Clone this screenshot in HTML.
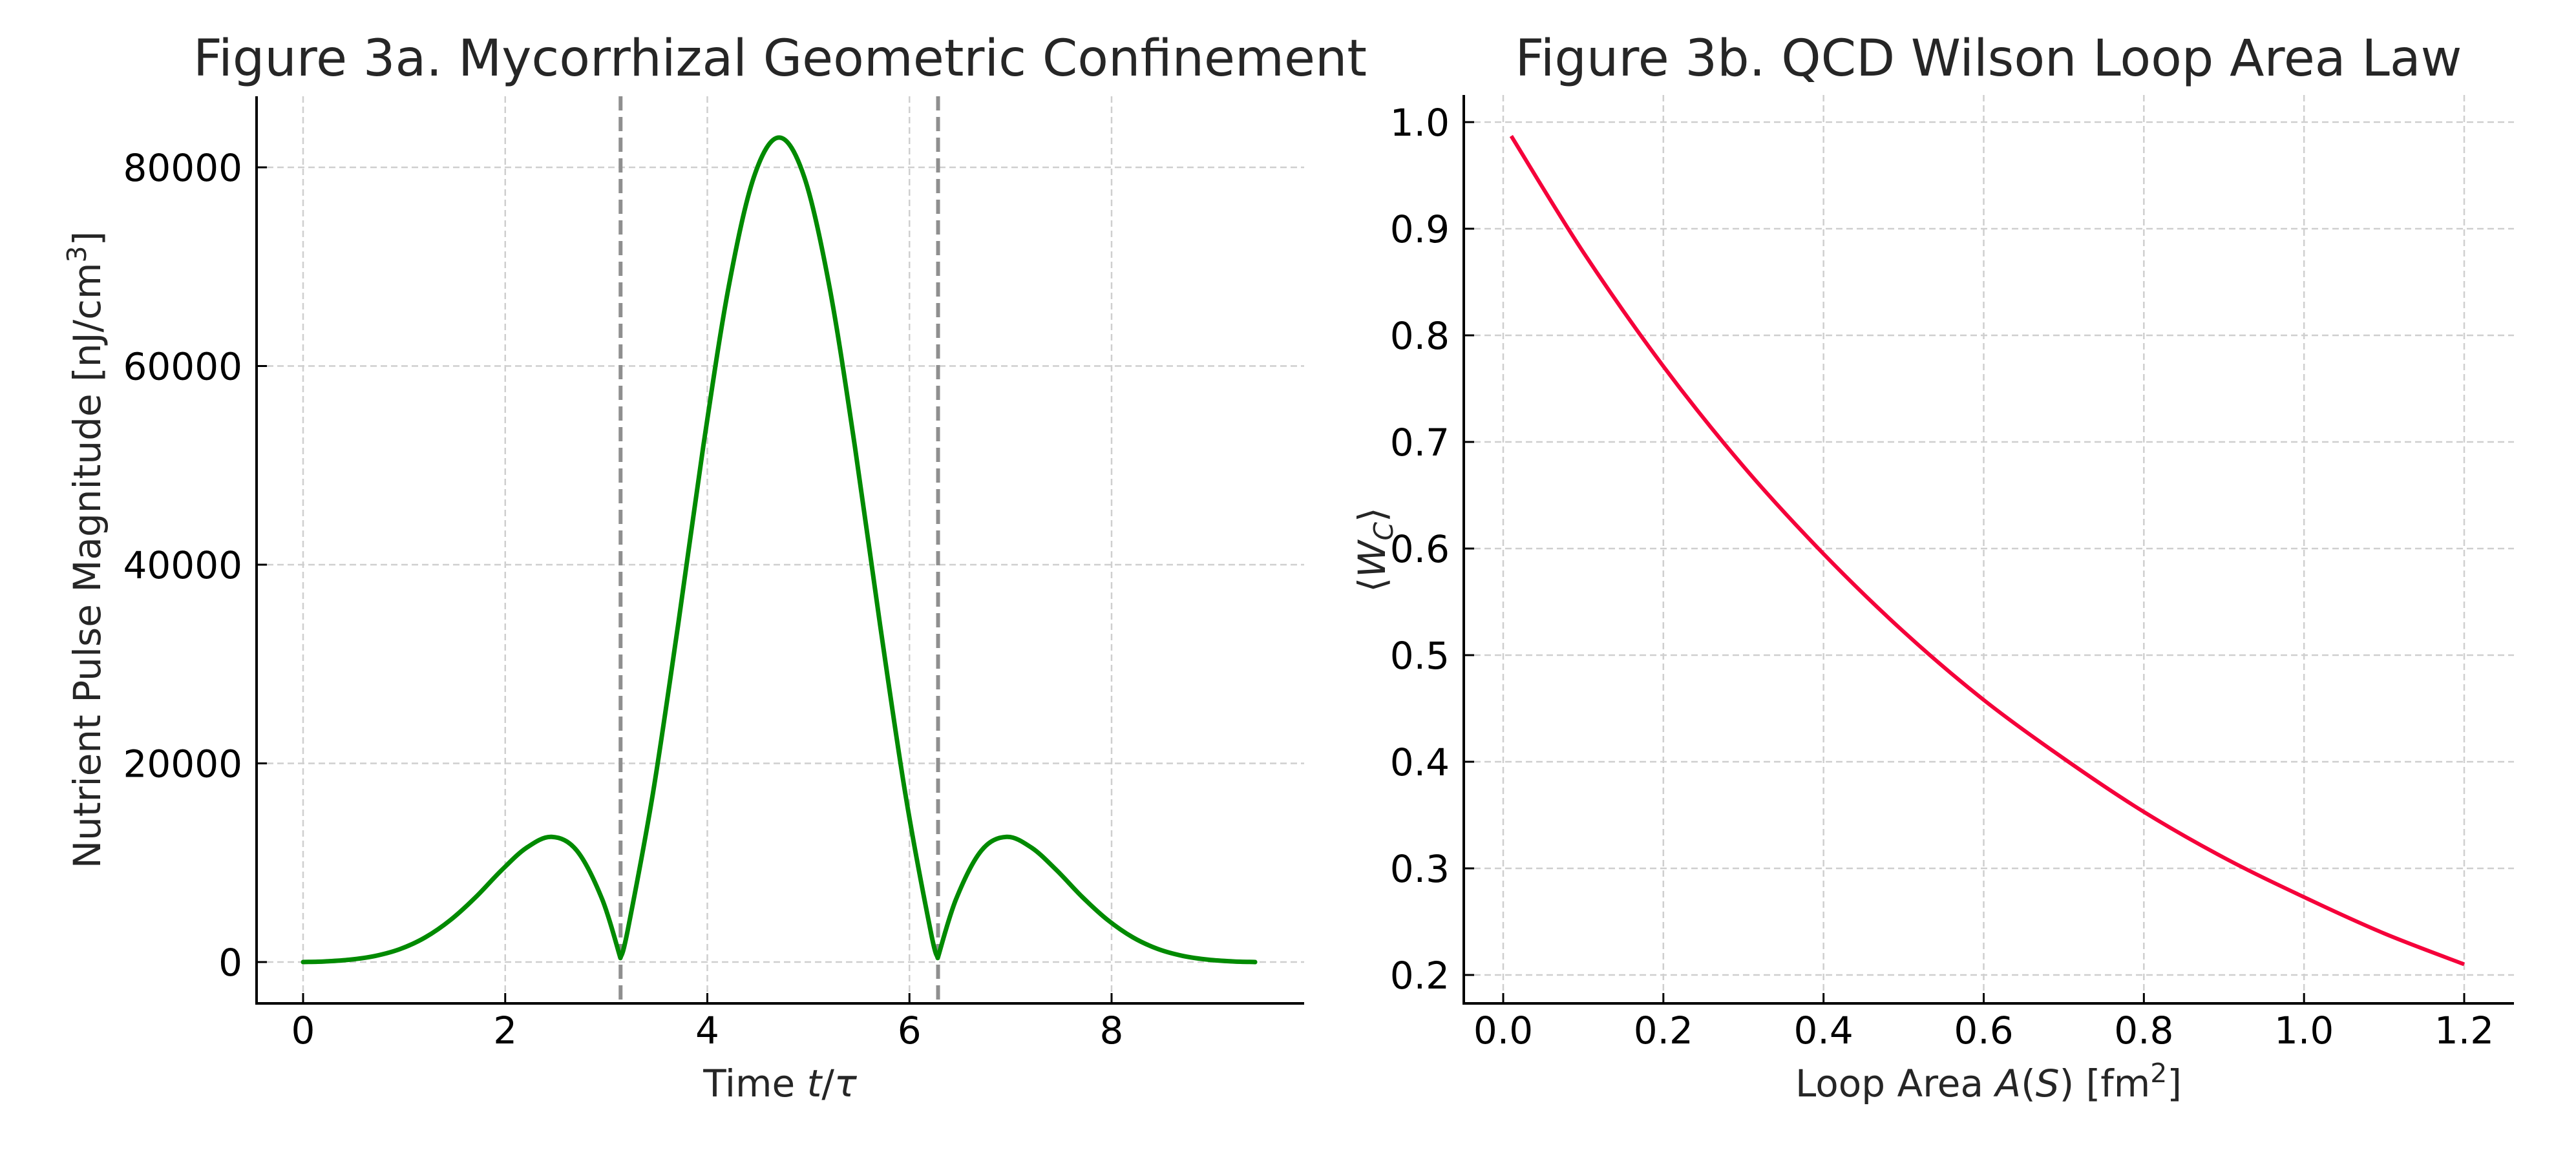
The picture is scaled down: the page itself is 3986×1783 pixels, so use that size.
<!DOCTYPE html>
<html><head><meta charset="utf-8"><style>
html,body{margin:0;padding:0;background:#fff;}
svg{display:block;font-family:"DejaVu Sans","Liberation Sans",sans-serif;}
</style></head><body>
<svg id="fig" width="3986" height="1783" viewBox="0 0 3986 1783" xmlns="http://www.w3.org/2000/svg">
<rect width="3986" height="1783" fill="#fff"/>
</svg>
<script>
// ---- Figure 3a data ----
const pulseTimes = [0,0.21,0.46,0.71,0.96,1.21,1.46,1.71,1.96,2.21,2.46,2.71,2.96,3.14,3.21,3.46,3.71,3.96,4.21,4.46,4.71,4.96,5.21,5.46,5.71,5.96,6.21,6.28,6.46,6.71,6.96,7.21,7.46,7.71,7.96,8.21,8.46,8.71,8.96,9.21,9.42];
const pulseValues = [0,60,232,606,1310,2490,4250,6550,9200,11500,12600,11200,6300,400,3100,16900,33900,51900,67900,79000,83000,79000,67900,51900,33900,16900,3100,400,6300,11200,12600,11500,9200,6550,4250,2490,1310,606,232,60,0];
const pulseXTicks = [0,2,4,6,8];
const pulseYTicks = [0,20000,40000,60000,80000];
const pulseVLines = [3.14159,6.28319];
// ---- Figure 3b data ----
const loopAreas = [0.01,0.1,0.2,0.3,0.4,0.5,0.6,0.7,0.8,0.9,1.0,1.1,1.2];
const wilsonValues = [0.987,0.878,0.771,0.677,0.595,0.522,0.458,0.403,0.353,0.310,0.273,0.239,0.210];
const loopXTicks = [0.0,0.2,0.4,0.6,0.8,1.0,1.2];
const loopXTickLabels = ["0.0","0.2","0.4","0.6","0.8","1.0","1.2"];
const loopYTicks = [0.2,0.3,0.4,0.5,0.6,0.7,0.8,0.9,1.0];
const loopYTickLabels = ["0.2","0.3","0.4","0.5","0.6","0.7","0.8","0.9","1.0"];

const NS="http://www.w3.org/2000/svg";
const svg=document.getElementById('fig');
function mk(tag,attrs,parent){const e=document.createElementNS(NS,tag);for(const k in attrs)e.setAttribute(k,attrs[k]);(parent||svg).appendChild(e);return e;}

function catmull(pts){
  if(pts.length<2)return '';
  let d='M'+pts[0][0].toFixed(1)+','+pts[0][1].toFixed(1);
  for(let i=0;i<pts.length-1;i++){
    const p0=pts[Math.max(0,i-1)],p1=pts[i],p2=pts[i+1],p3=pts[Math.min(pts.length-1,i+2)];
    const c1x=p1[0]+(p2[0]-p0[0])/6,c1y=p1[1]+(p2[1]-p0[1])/6;
    const c2x=p2[0]-(p3[0]-p1[0])/6,c2y=p2[1]-(p3[1]-p1[1])/6;
    d+=' C'+c1x.toFixed(1)+','+c1y.toFixed(1)+' '+c2x.toFixed(1)+','+c2y.toFixed(1)+' '+p2[0].toFixed(1)+','+p2[1].toFixed(1);
  }
  return d;
}

function axes(cfg){
  const g=mk('g',{});
  
  
  const X=v=>cfg.px0+(v-cfg.x0)/(cfg.x1-cfg.x0)*(cfg.px1-cfg.px0);
  const Y=v=>cfg.py0+(v-cfg.y0)/(cfg.y1-cfg.y0)*(cfg.py1-cfg.py0);
  cfg.xt.forEach((t,i)=>{
    const l=mk('line',{x1:X(t),x2:X(t),y1:cfg.top,y2:cfg.bottom,stroke:'#cfcfcf','stroke-width':2.5,'stroke-dasharray':'10,6'},g);
    
    
  });
  cfg.yt.forEach((t,i)=>{
    const l=mk('line',{x1:cfg.left,x2:cfg.right,y1:Y(t),y2:Y(t),stroke:'#cfcfcf','stroke-width':2.5,'stroke-dasharray':'10,6'},g);
    
    
  });
  return {g,X,Y};
}

function frame(cfg,g,X,Y){
  const sl=mk('line',{x1:cfg.left,x2:cfg.left,y1:cfg.top,y2:cfg.bottom+2,stroke:'#000','stroke-width':4},g);
  
  
  const sb=mk('line',{x1:cfg.left-2,x2:cfg.right,y1:cfg.bottom,y2:cfg.bottom,stroke:'#000','stroke-width':4},g);
  
  
  cfg.xt.forEach((t,i)=>{
    const tk=mk('line',{x1:X(t),x2:X(t),y1:cfg.bottom,y2:cfg.bottom-16,stroke:'#000','stroke-width':3},g);
    
    
    const tx=mk('text',{x:X(t),y:1615,'font-size':58,'text-anchor':'middle',fill:'#000'},g);
    tx.textContent=cfg.xl[i];
    
    
  });
  cfg.yt.forEach((t,i)=>{
    const tk=mk('line',{x1:cfg.left,x2:cfg.left+16,y1:Y(t),y2:Y(t),stroke:'#000','stroke-width':3},g);
    
    
    const tx=mk('text',{x:cfg.left-22,y:Y(t)+21,'font-size':58,'text-anchor':'end',fill:'#000'},g);
    tx.textContent=cfg.yl[i];
    
    
  });
}

// ---------- Left chart ----------
const L={name:'chart-3a',left:397,right:2018,top:149,bottom:1553,
  x0:0,x1:8,px0:469,px1:1720,y0:0,y1:80000,py0:1489,py1:259,
  xt:pulseXTicks,xl:pulseXTicks.map(String),yt:pulseYTicks,yl:pulseYTicks.map(String)};
const A=axes(L);
pulseVLines.forEach(v=>{
  const l=mk('line',{x1:A.X(v),x2:A.X(v),y1:L.top,y2:L.bottom,stroke:'#8f8f8f','stroke-width':6,'stroke-dasharray':'22,10'},A.g);
  
  
});
{
  const pts=pulseTimes.map((t,i)=>[A.X(t),A.Y(pulseValues[i])]);
  const segs=[];let cur=[pts[0]];
  for(let i=1;i<pts.length;i++){
    cur.push(pts[i]);
    if(i<pts.length-1&&pulseValues[i]<pulseValues[i-1]&&pulseValues[i]<pulseValues[i+1]){segs.push(cur);cur=[pts[i]];}
  }
  segs.push(cur);
  const p=mk('path',{d:segs.map(catmull).join(' '),fill:'none',stroke:'#008a00','stroke-width':7,'stroke-linejoin':'round','stroke-linecap':'round'},A.g);
  
  
}
frame(L,A.g,A.X,A.Y);
{
  const t=mk('text',{x:1207,y:117,'font-size':78,'text-anchor':'middle',fill:'#262626'});
  t.textContent='Figure 3a. Mycorrhizal Geometric Confinement';
  
  
  const xl=mk('text',{x:1207,y:1697,'font-size':58,'text-anchor':'middle',fill:'#262626'});
  xl.innerHTML='Time <tspan font-style="italic">t</tspan>/<tspan font-style="italic">τ</tspan>';
  
  
  const yl=mk('text',{x:0,y:0,'font-size':58,'text-anchor':'middle',fill:'#262626',transform:'translate(155,851) rotate(-90)'});
  yl.innerHTML='Nutrient Pulse Magnitude [nJ/cm<tspan dy="-22" font-size="41">3</tspan><tspan dy="22">]</tspan>';
  
  
}

// ---------- Right chart ----------
const R={name:'chart-3b',left:2265,right:3890,top:147,bottom:1553,
  x0:0,x1:1.2,px0:2326,px1:3813,y0:0.2,y1:1.0,py0:1509,py1:189,
  xt:loopXTicks,xl:loopXTickLabels,yt:loopYTicks,yl:loopYTickLabels};
const B=axes(R);
{
  const pts=loopAreas.map((a,i)=>[B.X(a),B.Y(wilsonValues[i])]);
  const p=mk('path',{d:catmull(pts),fill:'none',stroke:'#f5003a','stroke-width':6,'stroke-linejoin':'round'},B.g);
  
  
}
frame(R,B.g,B.X,B.Y);
{
  const t=mk('text',{x:3077,y:117,'font-size':78,'text-anchor':'middle',fill:'#262626'});
  t.textContent='Figure 3b. QCD Wilson Loop Area Law';
  
  
  const xl=mk('text',{x:3077,y:1697,'font-size':58,'text-anchor':'middle',fill:'#262626'});
  xl.innerHTML='Loop Area <tspan font-style="italic">A</tspan>(<tspan font-style="italic">S</tspan>) [fm<tspan dy="-22" font-size="41">2</tspan><tspan dy="22">]</tspan>';
  
  
  const yl=mk('text',{x:0,y:0,'font-size':58,'text-anchor':'middle',fill:'#262626',transform:'translate(2143,851) rotate(-90)'});
  yl.innerHTML='⟨<tspan font-style="italic">W</tspan><tspan font-style="italic" font-size="41" dy="12">C</tspan><tspan dy="-12">⟩</tspan>';
  
  
}
</script>
</body></html>
